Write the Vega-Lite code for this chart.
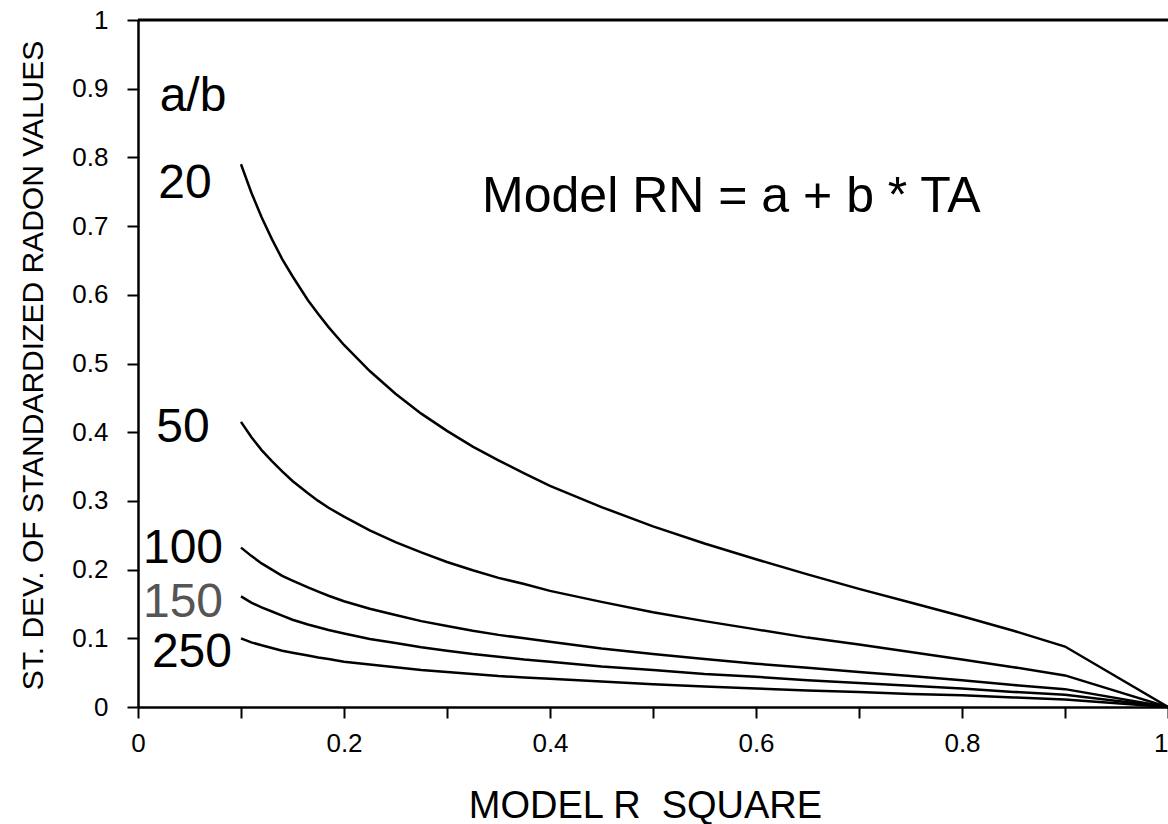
{
  "$schema": "https://vega.github.io/schema/vega-lite/v6.json",
  "width": 1030,
  "height": 687,
  "autosize": {"type": "none"},
  "padding": {"left": 138, "top": 20, "right": 0, "bottom": 117},
  "background": "white",
  "config": {
    "view": {"stroke": null},
    "font": "Liberation Sans"
  },
  "datasets": {
    "curves": [
      {"r2": 0.10, "sd": 0.790, "ab": 20}, {"r2": 0.11, "sd": 0.749, "ab": 20}, {"r2": 0.12, "sd": 0.713, "ab": 20}, {"r2": 0.13, "sd": 0.681, "ab": 20}, {"r2": 0.14, "sd": 0.652, "ab": 20}, {"r2": 0.15, "sd": 0.627, "ab": 20}, {"r2": 0.165, "sd": 0.592, "ab": 20}, {"r2": 0.175, "sd": 0.572, "ab": 20}, {"r2": 0.185, "sd": 0.553, "ab": 20}, {"r2": 0.20, "sd": 0.527, "ab": 20}, {"r2": 0.225, "sd": 0.489, "ab": 20}, {"r2": 0.25, "sd": 0.456, "ab": 20}, {"r2": 0.275, "sd": 0.427, "ab": 20}, {"r2": 0.30, "sd": 0.402, "ab": 20}, {"r2": 0.325, "sd": 0.379, "ab": 20}, {"r2": 0.35, "sd": 0.359, "ab": 20}, {"r2": 0.375, "sd": 0.340, "ab": 20}, {"r2": 0.40, "sd": 0.322, "ab": 20}, {"r2": 0.45, "sd": 0.291, "ab": 20}, {"r2": 0.50, "sd": 0.263, "ab": 20}, {"r2": 0.55, "sd": 0.238, "ab": 20}, {"r2": 0.60, "sd": 0.215, "ab": 20}, {"r2": 0.65, "sd": 0.193, "ab": 20}, {"r2": 0.70, "sd": 0.172, "ab": 20}, {"r2": 0.75, "sd": 0.152, "ab": 20}, {"r2": 0.80, "sd": 0.132, "ab": 20}, {"r2": 0.85, "sd": 0.111, "ab": 20}, {"r2": 0.90, "sd": 0.088, "ab": 20}, {"r2": 1.00, "sd": 0.0, "ab": 20},
      {"r2": 0.10, "sd": 0.415, "ab": 50}, {"r2": 0.11, "sd": 0.393, "ab": 50}, {"r2": 0.12, "sd": 0.374, "ab": 50}, {"r2": 0.13, "sd": 0.358, "ab": 50}, {"r2": 0.14, "sd": 0.343, "ab": 50}, {"r2": 0.15, "sd": 0.329, "ab": 50}, {"r2": 0.165, "sd": 0.311, "ab": 50}, {"r2": 0.175, "sd": 0.300, "ab": 50}, {"r2": 0.185, "sd": 0.290, "ab": 50}, {"r2": 0.20, "sd": 0.277, "ab": 50}, {"r2": 0.225, "sd": 0.257, "ab": 50}, {"r2": 0.25, "sd": 0.240, "ab": 50}, {"r2": 0.275, "sd": 0.225, "ab": 50}, {"r2": 0.30, "sd": 0.211, "ab": 50}, {"r2": 0.325, "sd": 0.199, "ab": 50}, {"r2": 0.35, "sd": 0.188, "ab": 50}, {"r2": 0.375, "sd": 0.179, "ab": 50}, {"r2": 0.40, "sd": 0.169, "ab": 50}, {"r2": 0.45, "sd": 0.153, "ab": 50}, {"r2": 0.50, "sd": 0.138, "ab": 50}, {"r2": 0.55, "sd": 0.125, "ab": 50}, {"r2": 0.60, "sd": 0.113, "ab": 50}, {"r2": 0.65, "sd": 0.101, "ab": 50}, {"r2": 0.70, "sd": 0.091, "ab": 50}, {"r2": 0.75, "sd": 0.080, "ab": 50}, {"r2": 0.80, "sd": 0.069, "ab": 50}, {"r2": 0.85, "sd": 0.058, "ab": 50}, {"r2": 0.90, "sd": 0.046, "ab": 50}, {"r2": 1.00, "sd": 0.0, "ab": 50},
      {"r2": 0.10, "sd": 0.232, "ab": 100}, {"r2": 0.11, "sd": 0.220, "ab": 100}, {"r2": 0.12, "sd": 0.209, "ab": 100}, {"r2": 0.13, "sd": 0.200, "ab": 100}, {"r2": 0.14, "sd": 0.191, "ab": 100}, {"r2": 0.15, "sd": 0.184, "ab": 100}, {"r2": 0.165, "sd": 0.174, "ab": 100}, {"r2": 0.175, "sd": 0.168, "ab": 100}, {"r2": 0.185, "sd": 0.162, "ab": 100}, {"r2": 0.20, "sd": 0.154, "ab": 100}, {"r2": 0.225, "sd": 0.143, "ab": 100}, {"r2": 0.25, "sd": 0.134, "ab": 100}, {"r2": 0.275, "sd": 0.125, "ab": 100}, {"r2": 0.30, "sd": 0.118, "ab": 100}, {"r2": 0.325, "sd": 0.111, "ab": 100}, {"r2": 0.35, "sd": 0.105, "ab": 100}, {"r2": 0.375, "sd": 0.100, "ab": 100}, {"r2": 0.40, "sd": 0.095, "ab": 100}, {"r2": 0.45, "sd": 0.085, "ab": 100}, {"r2": 0.50, "sd": 0.077, "ab": 100}, {"r2": 0.55, "sd": 0.070, "ab": 100}, {"r2": 0.60, "sd": 0.063, "ab": 100}, {"r2": 0.65, "sd": 0.057, "ab": 100}, {"r2": 0.70, "sd": 0.051, "ab": 100}, {"r2": 0.75, "sd": 0.045, "ab": 100}, {"r2": 0.80, "sd": 0.039, "ab": 100}, {"r2": 0.85, "sd": 0.032, "ab": 100}, {"r2": 0.90, "sd": 0.026, "ab": 100}, {"r2": 1.00, "sd": 0.0, "ab": 100},
      {"r2": 0.10, "sd": 0.161, "ab": 150}, {"r2": 0.11, "sd": 0.152, "ab": 150}, {"r2": 0.12, "sd": 0.145, "ab": 150}, {"r2": 0.13, "sd": 0.139, "ab": 150}, {"r2": 0.14, "sd": 0.133, "ab": 150}, {"r2": 0.15, "sd": 0.127, "ab": 150}, {"r2": 0.165, "sd": 0.120, "ab": 150}, {"r2": 0.175, "sd": 0.116, "ab": 150}, {"r2": 0.185, "sd": 0.112, "ab": 150}, {"r2": 0.20, "sd": 0.107, "ab": 150}, {"r2": 0.225, "sd": 0.099, "ab": 150}, {"r2": 0.25, "sd": 0.093, "ab": 150}, {"r2": 0.275, "sd": 0.087, "ab": 150}, {"r2": 0.30, "sd": 0.082, "ab": 150}, {"r2": 0.325, "sd": 0.077, "ab": 150}, {"r2": 0.35, "sd": 0.073, "ab": 150}, {"r2": 0.375, "sd": 0.069, "ab": 150}, {"r2": 0.40, "sd": 0.066, "ab": 150}, {"r2": 0.45, "sd": 0.059, "ab": 150}, {"r2": 0.50, "sd": 0.054, "ab": 150}, {"r2": 0.55, "sd": 0.048, "ab": 150}, {"r2": 0.60, "sd": 0.044, "ab": 150}, {"r2": 0.65, "sd": 0.039, "ab": 150}, {"r2": 0.70, "sd": 0.035, "ab": 150}, {"r2": 0.75, "sd": 0.031, "ab": 150}, {"r2": 0.80, "sd": 0.027, "ab": 150}, {"r2": 0.85, "sd": 0.022, "ab": 150}, {"r2": 0.90, "sd": 0.018, "ab": 150}, {"r2": 1.00, "sd": 0.0, "ab": 150},
      {"r2": 0.10, "sd": 0.100, "ab": 250}, {"r2": 0.11, "sd": 0.094, "ab": 250}, {"r2": 0.12, "sd": 0.090, "ab": 250}, {"r2": 0.13, "sd": 0.086, "ab": 250}, {"r2": 0.14, "sd": 0.082, "ab": 250}, {"r2": 0.15, "sd": 0.079, "ab": 250}, {"r2": 0.165, "sd": 0.075, "ab": 250}, {"r2": 0.175, "sd": 0.072, "ab": 250}, {"r2": 0.185, "sd": 0.070, "ab": 250}, {"r2": 0.20, "sd": 0.066, "ab": 250}, {"r2": 0.225, "sd": 0.062, "ab": 250}, {"r2": 0.25, "sd": 0.058, "ab": 250}, {"r2": 0.275, "sd": 0.054, "ab": 250}, {"r2": 0.30, "sd": 0.051, "ab": 250}, {"r2": 0.325, "sd": 0.048, "ab": 250}, {"r2": 0.35, "sd": 0.045, "ab": 250}, {"r2": 0.375, "sd": 0.043, "ab": 250}, {"r2": 0.40, "sd": 0.041, "ab": 250}, {"r2": 0.45, "sd": 0.037, "ab": 250}, {"r2": 0.50, "sd": 0.033, "ab": 250}, {"r2": 0.55, "sd": 0.030, "ab": 250}, {"r2": 0.60, "sd": 0.027, "ab": 250}, {"r2": 0.65, "sd": 0.024, "ab": 250}, {"r2": 0.70, "sd": 0.022, "ab": 250}, {"r2": 0.75, "sd": 0.019, "ab": 250}, {"r2": 0.80, "sd": 0.017, "ab": 250}, {"r2": 0.85, "sd": 0.014, "ab": 250}, {"r2": 0.90, "sd": 0.011, "ab": 250}, {"r2": 1.00, "sd": 0.0, "ab": 250}
    ],
    "labels": [
      {"x": 0.0534, "y": 0.8675, "text": "a/b"},
      {"x": 0.0456, "y": 0.741, "text": "20"},
      {"x": 0.0437, "y": 0.3857, "text": "50"},
      {"x": 0.0437, "y": 0.2096, "text": "100"},
      {"x": 0.0524, "y": 0.0582, "text": "250"}
    ],
    "grey": [
      {"x": 0.0437, "y": 0.131, "text": "150"}
    ],
    "model": [
      {"x": 0.576, "y": 0.7205, "text": "Model RN = a + b * TA"}
    ],
    "top": [
      {"y": 1}
    ]
  },
  "layer": [
    {
      "data": {"name": "curves"},
      "mark": {"type": "line", "color": "black", "strokeWidth": 2.5},
      "encoding": {
        "x": {
          "field": "r2", "type": "quantitative",
          "scale": {"domain": [0, 1], "nice": false, "zero": false},
          "axis": {
            "grid": false,
            "values": [0, 0.1, 0.2, 0.3, 0.4, 0.5, 0.6, 0.7, 0.8, 0.9, 1],
            "labelExpr": "round(datum.value * 10) % 2 == 0 ? format(datum.value, '.1~f') : ''",
            "labelFont": "Liberation Sans",
            "labelFontSize": 26,
            "labelColor": "black",
            "labelPadding": 12,
            "labelOverlap": false,
            "labelFlush": false,
            "labelAlign": {"condition": {"test": "datum.value == 1", "value": "right"}, "value": "center"},
            "domainColor": "black",
            "domainWidth": 2.5,
            "tickColor": "black",
            "tickWidth": 2,
            "tickSize": 11,
            "title": "MODEL R\u00a0\u00a0SQUARE",
            "titleFont": "Liberation Sans",
            "titleFontWeight": "normal",
            "titleColor": "black",
            "titleFontSize": 38,
            "titleX": 507,
            "titleY": 110,
            "titleBaseline": "alphabetic",
            "titleAlign": "center"
          }
        },
        "y": {
          "field": "sd", "type": "quantitative",
          "scale": {"domain": [0, 1], "nice": false},
          "axis": {
            "grid": false,
            "values": [0, 0.1, 0.2, 0.3, 0.4, 0.5, 0.6, 0.7, 0.8, 0.9, 1],
            "format": ".1~f",
            "labelFont": "Liberation Sans",
            "labelFontSize": 26,
            "labelColor": "black",
            "labelPadding": 19,
            "labelOverlap": false,
            "labelFlush": false,
            "domainColor": "black",
            "domainWidth": 2.5,
            "tickColor": "black",
            "tickWidth": 2,
            "tickSize": 11,
            "title": "ST. DEV. OF STANDARDIZED RADON VALUES",
            "titleFont": "Liberation Sans",
            "titleFontWeight": "normal",
            "titleColor": "black",
            "titleFontSize": 30,
            "titleX": -96,
            "titleY": 345,
            "titleAngle": 270,
            "titleBaseline": "alphabetic",
            "titleAlign": "center"
          }
        },
        "detail": {"field": "ab", "type": "nominal"}
      }
    },
    {
      "data": {"name": "top"},
      "mark": {"type": "rule", "color": "black", "strokeWidth": 3},
      "encoding": {"y": {"field": "y", "type": "quantitative"}}
    },
    {
      "data": {"name": "labels"},
      "mark": {"type": "text", "fontSize": 48, "font": "Liberation Sans", "color": "black", "align": "center", "baseline": "alphabetic"},
      "encoding": {
        "x": {"field": "x", "type": "quantitative"},
        "y": {"field": "y", "type": "quantitative"},
        "text": {"field": "text"}
      }
    },
    {
      "data": {"name": "grey"},
      "mark": {"type": "text", "fontSize": 48, "font": "Liberation Sans", "color": "#555555", "align": "center", "baseline": "alphabetic"},
      "encoding": {
        "x": {"field": "x", "type": "quantitative"},
        "y": {"field": "y", "type": "quantitative"},
        "text": {"field": "text"}
      }
    },
    {
      "data": {"name": "model"},
      "mark": {"type": "text", "fontSize": 50, "font": "Liberation Sans", "color": "black", "align": "center", "baseline": "alphabetic"},
      "encoding": {
        "x": {"field": "x", "type": "quantitative"},
        "y": {"field": "y", "type": "quantitative"},
        "text": {"field": "text"}
      }
    }
  ]
}
